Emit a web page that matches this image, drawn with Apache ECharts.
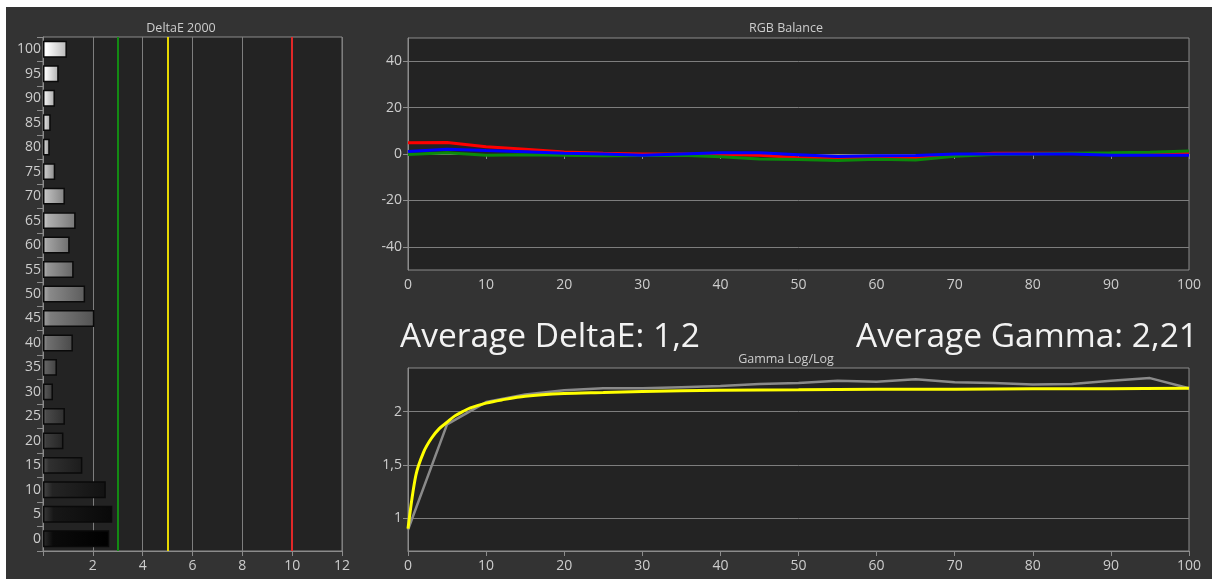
<!DOCTYPE html>
<html><head><meta charset="utf-8">
<script src="https://cdn.jsdelivr.net/npm/echarts@6/dist/echarts.min.js"></script>
<style>
html,body{margin:0;padding:0;background:#fff;width:1212px;height:579px;overflow:hidden}
#c{position:absolute;left:6px;top:7px;width:1206px;height:572px}
</style></head><body><div id="c"></div>
<script>
// ---- DeltaE 2000 panel ----
const levels = ['0','5','10','15','20','25','30','35','40','45','50','55','60','65','70','75','80','85','90','95','100'];
const deltaE = [2.66,2.78,2.52,1.58,0.82,0.88,0.40,0.56,1.20,2.06,1.69,1.23,1.07,1.31,0.88,0.49,0.27,0.31,0.48,0.63,0.96];
const deltaTicks = [0,2,4,6,8,10,12];
const thresholds = [3,5,10];
const thresholdColors = ['#138a13','#e8d800','#e02828'];

// ---- RGB Balance panel ----
const rgbX = [0,5,10,15,20,25,30,35,40,45,50,55,60,65,70,75,80,85,90,95,100];
const redVals   = [4.8,5.0,3.1,2.1,0.9,0.3,0.0,0.0,-0.2,-0.5,-1.6,-2.0,-1.2,-1.8,-0.5,0.3,0.3,0.3,0.0,0.3,0.5];
const greenVals = [-0.2,0.5,-0.5,-0.3,-0.5,-0.8,-0.6,-0.5,-1.2,-2.2,-2.4,-2.8,-2.3,-2.6,-1.0,-0.2,0.0,0.3,0.5,0.8,1.3];
const blueVals  = [1.1,2.1,1.5,1.0,0.3,0.0,-0.5,0.0,0.5,0.5,-0.3,-1.1,-0.8,-0.6,0.0,0.0,0.0,0.0,-0.5,-0.5,-0.5];
const rgbTicks = [-40,-20,0,20,40];

// ---- Gamma panel ----
const gammaX = [0,5,10,15,20,25,30,35,40,45,50,55,60,65,70,75,80,85,90,95,100];
const gammaMeasured = [0.89,1.88,2.09,2.16,2.20,2.22,2.22,2.23,2.24,2.26,2.27,2.29,2.28,2.305,2.277,2.27,2.255,2.26,2.29,2.315,2.22];
const targetX = [0,1,2,3,4,5,6,7,8,10,12,15,20,25,30,40,50,60,70,80,90,100];
const targetGamma = [0.90,1.40,1.62,1.75,1.84,1.90,1.96,2.00,2.035,2.08,2.11,2.145,2.17,2.18,2.19,2.20,2.205,2.21,2.21,2.215,2.215,2.22];
const gammaTicks = [1,1.5,2];

const avgDeltaText = 'Average DeltaE: 1,2';
const avgGammaText = 'Average Gamma: 2,21';

const FONT = '"Open Sans", "Noto Sans", sans-serif';
const LBL = '#cdcdcd';
const AX = '#8c8c8c';
const GRIDC = '#7e7e7e';

function rgb(v){v=Math.max(0,Math.min(255,Math.round(v)));return 'rgb('+v+','+v+','+v+')';}
function barColor(level){
  const g = Number(level)*2.55;
  return new echarts.graphic.LinearGradient(0,0,1,0,[
    {offset:0,color:rgb(g+45)},
    {offset:0.15,color:rgb(g+10)},
    {offset:1,color:rgb(g*0.72)}
  ]);
}

const axisLabel = (extra)=>Object.assign({color:LBL,fontFamily:FONT,fontSize:14},extra||{});

const chart = echarts.init(document.getElementById('c'),null,{renderer:'canvas'});
chart.setOption({
  backgroundColor:'#333333',
  animation:false,
  grid:[
    {left:37,top:30,width:299,height:514,show:true,backgroundColor:'#232323',borderColor:AX,borderWidth:1,containLabel:false},
    {left:402,top:31,width:781,height:232,show:true,backgroundColor:'#232323',borderColor:AX,borderWidth:1,containLabel:false},
    {left:402,top:361,width:781,height:183,show:true,backgroundColor:'#232323',borderColor:AX,borderWidth:1,containLabel:false}
  ],
  xAxis:[
    {gridIndex:0,type:'value',min:deltaTicks[0],max:deltaTicks[deltaTicks.length-1],interval:2,
     axisLine:{show:true,lineStyle:{color:AX}},axisTick:{show:true,length:5,lineStyle:{color:AX}},
     axisLabel:axisLabel({margin:8,formatter:v=>v===0?'':String(v)}),
     splitLine:{show:true,lineStyle:{color:GRIDC,width:1}}},
    {gridIndex:1,type:'value',min:0,max:100,interval:10,
     axisLine:{show:true,lineStyle:{color:AX}},axisTick:{show:true,length:5,lineStyle:{color:AX}},
     axisLabel:axisLabel({margin:8}),splitLine:{show:false}},
    {gridIndex:2,type:'value',min:0,max:100,interval:10,
     axisLine:{show:true,lineStyle:{color:AX}},axisTick:{show:true,length:5,lineStyle:{color:AX}},
     axisLabel:axisLabel({margin:8}),splitLine:{show:false}}
  ],
  yAxis:[
    {gridIndex:0,type:'category',data:levels,
     axisLine:{show:true,lineStyle:{color:AX}},
     axisTick:{show:true,length:6,alignWithLabel:false,lineStyle:{color:AX}},
     axisLabel:axisLabel({margin:2,interval:0}),splitLine:{show:false}},
    {gridIndex:1,type:'value',min:-50,max:50,interval:10,
     axisLine:{show:true,lineStyle:{color:AX}},
     axisTick:{show:true,length:5,customValues:rgbTicks,lineStyle:{color:AX}},
     axisLabel:axisLabel({margin:6,customValues:rgbTicks}),
     splitLine:{show:true,lineStyle:{color:GRIDC,width:1}}},
    {gridIndex:2,type:'value',min:0.69,max:2.41,
     axisLine:{show:true,lineStyle:{color:AX}},
     axisTick:{show:true,length:5,customValues:gammaTicks,lineStyle:{color:AX}},
     axisLabel:axisLabel({margin:6,customValues:gammaTicks,formatter:v=>String(v).replace('.',',')}),
     splitLine:{show:true,lineStyle:{color:GRIDC,width:1}}}
  ],
  series:[
    {type:'bar',xAxisIndex:0,yAxisIndex:0,barWidth:'69%',
     data:deltaE.map((v,i)=>({value:v,itemStyle:{color:barColor(levels[i]),borderColor:'#0a0a0a',borderWidth:1.5}})),
     markLine:{silent:true,symbol:'none',label:{show:false},
       data:thresholds.map((t,i)=>({xAxis:t,lineStyle:{color:thresholdColors[i],width:2,type:'solid'}}))}},
    {type:'line',xAxisIndex:1,yAxisIndex:1,symbol:'none',lineStyle:{color:'#ff0000',width:3},
     data:rgbX.map((x,i)=>[x,redVals[i]])},
    {type:'line',xAxisIndex:1,yAxisIndex:1,symbol:'none',lineStyle:{color:'#0a8a0a',width:3},
     data:rgbX.map((x,i)=>[x,greenVals[i]])},
    {type:'line',xAxisIndex:1,yAxisIndex:1,symbol:'none',lineStyle:{color:'#0000ff',width:3},
     data:rgbX.map((x,i)=>[x,blueVals[i]])},
    {type:'line',xAxisIndex:2,yAxisIndex:2,symbol:'none',lineStyle:{color:'#8a8a8a',width:2.5},
     data:gammaX.map((x,i)=>[x,gammaMeasured[i]])},
    {type:'line',xAxisIndex:2,yAxisIndex:2,symbol:'none',smooth:0.3,lineStyle:{color:'#ffff00',width:3},
     data:targetX.map((x,i)=>[x,targetGamma[i]])}
  ],
  graphic:[
    {type:'text',x:175,y:21,style:{text:'DeltaE 2000',fill:LBL,font:'12.5px '+FONT,align:'center',verticalAlign:'middle'}},
    {type:'text',x:780,y:21,style:{text:'RGB Balance',fill:LBL,font:'12.5px '+FONT,align:'center',verticalAlign:'middle'}},
    {type:'text',x:780,y:352,style:{text:'Gamma Log/Log',fill:LBL,font:'12.5px '+FONT,align:'center',verticalAlign:'middle'}},
    {type:'text',x:394,y:330,style:{text:avgDeltaText,fill:'#f2f2f2',font:'33.5px '+FONT,align:'left',verticalAlign:'middle'}},
    {type:'text',x:1192,y:330,style:{text:avgGammaText,fill:'#f2f2f2',font:'33.5px '+FONT,align:'right',verticalAlign:'middle'}}
  ]
});
</script></body></html>
